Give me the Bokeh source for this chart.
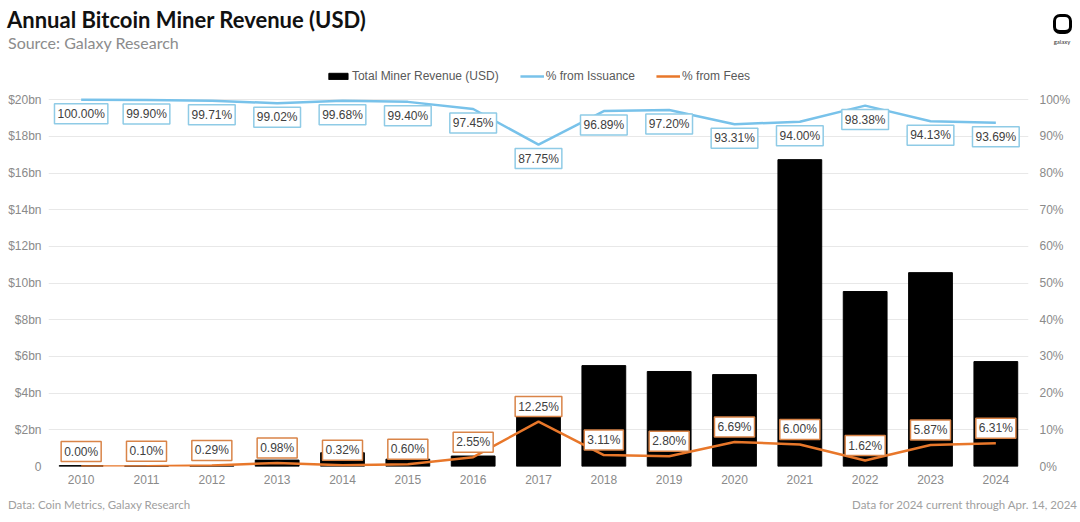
from bokeh.plotting import figure
from bokeh.layouts import column
from bokeh.models import (Range1d, LinearAxis, FixedTicker, Label, Legend, LegendItem,
                          ColumnDataSource, Div)
from bokeh.embed import file_html
from bokeh.resources import INLINE

# ---------------- data ----------------
years = ["2010", "2011", "2012", "2013", "2014", "2015", "2016", "2017",
         "2018", "2019", "2020", "2021", "2022", "2023", "2024"]
revenue_bn = [0.05, 0.03, 0.04, 0.35, 0.75, 0.40, 0.57, 3.00,
              5.50, 5.18, 5.01, 16.73, 9.54, 10.57, 5.72]
pct_issuance = [100.00, 99.90, 99.71, 99.02, 99.68, 99.40, 97.45, 87.75,
                96.89, 97.20, 93.31, 94.00, 98.38, 94.13, 93.69]
pct_fees = [0.00, 0.10, 0.29, 0.98, 0.32, 0.60, 2.55, 12.25,
            3.11, 2.80, 6.69, 6.00, 1.62, 5.87, 6.31]
left_ticks = [0, 2, 4, 6, 8, 10, 12, 14, 16, 18, 20]
left_tick_labels = ["0", "$2bn", "$4bn", "$6bn", "$8bn", "$10bn", "$12bn",
                    "$14bn", "$16bn", "$18bn", "$20bn"]
right_ticks = [0, 10, 20, 30, 40, 50, 60, 70, 80, 90, 100]
right_tick_labels = ["0%", "10%", "20%", "30%", "40%", "50%", "60%", "70%",
                     "80%", "90%", "100%"]
title_text = "Annual Bitcoin Miner Revenue (USD)"
subtitle_text = "Source: Galaxy Research"
note_left = "Data: Coin Metrics, Galaxy Research"
note_right = "Data for 2024 current through Apr. 14, 2024"
legend_labels = ["Total Miner Revenue (USD)", "% from Issuance", "% from Fees"]
logo_text = "galaxy"

# ---------------- styles ----------------
BLUE = "#78c2ea"
BLUE_BOX = "#8fcbe6"
ORANGE = "#e8772a"
ORANGE_BOX = "#d98448"
GRID = "#e8e8e8"
AXIS_TXT = "#8a8a8a"
FONT = "Liberation Sans"
W = 1080
TOP_H = 62
LEG_H = 24
MAIN_H = 406
BOT_H = 30

idx = list(range(len(years)))
src = ColumnDataSource(dict(x=idx, rev=revenue_bn, iss=pct_issuance, fee=pct_fees))

# ---------------- header (text) ----------------
header_html = f"""
<div style="position:relative;width:{W}px;height:{TOP_H}px;font-family:Lato,sans-serif;overflow:hidden;">
  <div style="position:absolute;left:7px;top:6px;font-size:22px;line-height:27px;font-weight:bold;color:#111111;white-space:nowrap;">{title_text}</div>
  <div style="position:absolute;left:8px;top:33px;font-size:16px;line-height:20px;color:#8c8c8c;white-space:nowrap;">{subtitle_text}</div>
  <div style="position:absolute;left:1053px;top:14px;width:19px;height:20px;box-sizing:border-box;border:3.5px solid #000000;border-bottom-width:4.5px;border-radius:7px;"></div>
  <div style="position:absolute;left:1046px;top:38px;width:32px;text-align:center;font-size:6px;line-height:8px;color:#333333;">{logo_text}</div>
</div>
"""
top = Div(text=header_html, width=W, height=TOP_H, margin=0)

# ---------------- legend strip ----------------
leg = figure(width=W, height=LEG_H, output_backend="svg", toolbar_location=None,
             x_range=Range1d(1000, 1001), y_range=Range1d(1000, 1001),
             x_axis_type=None, y_axis_type=None, min_border=0,
             min_border_left=0, min_border_right=0, min_border_top=0,
             min_border_bottom=0)
leg.outline_line_color = None
leg.xgrid.visible = False
leg.ygrid.visible = False
# legend proxies: same data, but the strip's ranges keep them out of view
lg_bar = leg.vbar(x="x", top="rev", width=0.67, source=src, color="black")
lg_iss = leg.line(x="x", y="iss", source=src, line_color=BLUE, line_width=2.5)
lg_fee = leg.line(x="x", y="fee", source=src, line_color=ORANGE, line_width=2.5)
legend = Legend(items=[LegendItem(label=legend_labels[0], renderers=[lg_bar]),
                       LegendItem(label=legend_labels[1], renderers=[lg_iss]),
                       LegendItem(label=legend_labels[2], renderers=[lg_fee])],
                orientation="horizontal", location="bottom_center",
                padding=0, margin=3, spacing=21, label_standoff=2,
                glyph_width=24, glyph_height=8, label_height=14,
                border_line_color=None, background_fill_alpha=0,
                label_text_font=FONT, label_text_font_size="12px",
                label_text_color="#595959")
leg.add_layout(legend, "center")

# ---------------- main chart ----------------
p = figure(width=W, height=MAIN_H, output_backend="svg", toolbar_location=None,
           x_range=Range1d(-0.5, len(years) - 0.5), y_range=Range1d(0, 20.5),
           min_border_left=48, min_border_right=52, min_border_top=4,
           min_border_bottom=26)
p.outline_line_color = None
p.background_fill_color = "white"
p.border_fill_color = "white"
p.extra_y_ranges = {"pct": Range1d(0, 102.5)}

p.xgrid.visible = False
p.ygrid.ticker = FixedTicker(ticks=left_ticks)
p.ygrid.grid_line_color = GRID
p.ygrid.grid_line_width = 1

def style_axis(ax, standoff):
    ax.axis_line_color = None
    ax.major_tick_line_color = None
    ax.minor_tick_line_color = None
    ax.major_tick_out = 0
    ax.major_tick_in = 0
    ax.minor_tick_out = 0
    ax.major_label_text_font = FONT
    ax.major_label_text_font_size = "12px"
    ax.major_label_text_color = AXIS_TXT
    ax.major_label_standoff = standoff

p.xaxis.ticker = FixedTicker(ticks=idx)
p.xaxis.major_label_overrides = {i: y for i, y in zip(idx, years)}
style_axis(p.xaxis[0], 8)

p.yaxis.ticker = FixedTicker(ticks=left_ticks)
p.yaxis.major_label_overrides = {t: l for t, l in zip(left_ticks, left_tick_labels)}
style_axis(p.yaxis[0], 7)

rax = LinearAxis(y_range_name="pct", ticker=FixedTicker(ticks=right_ticks))
rax.major_label_overrides = {t: l for t, l in zip(right_ticks, right_tick_labels)}
style_axis(rax, 11)
p.add_layout(rax, "right")

p.vbar(x="x", top="rev", width=0.67, source=src, color="black")
p.line(x="x", y="iss", source=src, y_range_name="pct", line_color=BLUE, line_width=2.5)
p.line(x="x", y="fee", source=src, y_range_name="pct", line_color=ORANGE, line_width=2.5)

for i, v in zip(idx, pct_issuance):
    p.add_layout(Label(x=i, y=v, y_range_name="pct", text=f"{v:.2f}%",
                       text_align="center", text_baseline="middle", y_offset=-14,
                       text_font=FONT, text_font_size="12px", text_color="#404040",
                       background_fill_color="white", border_line_color=BLUE_BOX,
                       border_line_width=1.5, padding=3))
for i, v in zip(idx, pct_fees):
    p.add_layout(Label(x=i, y=v, y_range_name="pct", text=f"{v:.2f}%",
                       text_align="center", text_baseline="middle", y_offset=15,
                       text_font=FONT, text_font_size="12px", text_color="#404040",
                       background_fill_color="white", border_line_color=ORANGE_BOX,
                       border_line_width=1.5, padding=3))

# ---------------- footer (text) ----------------
footer_html = f"""
<div style="position:relative;width:{W}px;height:{BOT_H}px;font-family:Lato,sans-serif;font-size:11.5px;line-height:14px;color:#a0a0a0;overflow:hidden;">
  <div style="position:absolute;left:8px;top:6px;white-space:nowrap;">{note_left}</div>
  <div style="position:absolute;right:3px;top:6px;white-space:nowrap;">{note_right}</div>
</div>
"""
bot = Div(text=footer_html, width=W, height=BOT_H, margin=0)

layout = column(top, leg, p, bot, spacing=0)
open("out.html", "w").write(file_html(layout, INLINE))
